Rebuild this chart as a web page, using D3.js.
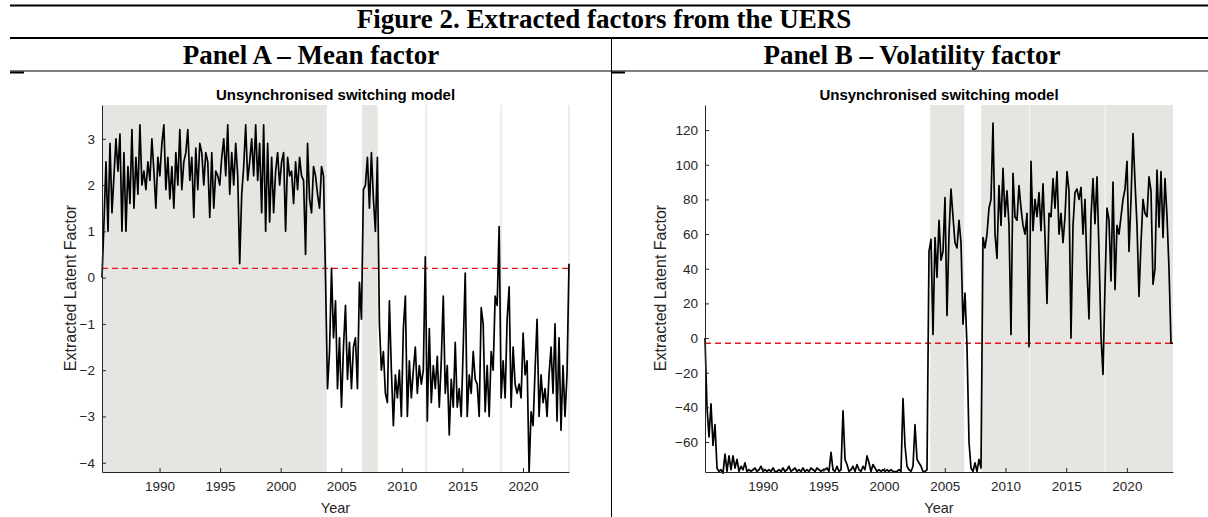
<!DOCTYPE html>
<html><head><meta charset="utf-8">
<script src="https://cdn.jsdelivr.net/npm/d3@7"></script>
<style>body{margin:0;background:#fff}</style></head>
<body><svg id="c" width="1208" height="517"></svg>
<script>
const startYear = 1985.25, endYear = 2023.8;
const meanFactor = [
0,1.2,2.5,1.0,2.9,1.4,
2.2,3.0,2.3,3.1,1.0,2.7, 1.0,2.4,1.6,3.2,1.5,2.6, 1.8,3.3,2.0,2.3,1.9,2.5, 2.1,3.0,2.3,1.5,2.6,2.2,
2.9,3.3,1.9,2.6,1.7,2.4, 1.5,2.7,2.0,3.2,1.9,2.5, 2.7,3.2,2.1,2.6,1.3,2.8, 1.9,2.9,2.7,2.0,2.7,2.5,
1.3,2.7,1.5,2.3,2.2,2.0, 2.6,3.0,2.2,3.3,1.8,2.7, 2.0,2.9,2.2,0.3,1.8,2.4, 3.3,2.1,2.5,3.0,2.2,3.3,
2.1,2.9,1.4,3.3,1.0,2.9, 1.2,2.6,1.4,2.3,2.7,2.0, 2.5,2.7,1.0,2.6,2.2,2.3, 1.6,2.5,1.9,2.6,2.2,2.1,
0.5,2.9,1.7,1.4,2.4,2.2, 1.8,1.5,2.4,2.2,0.0,-2.4,
-1.6,0.2,-1.3,-0.5,-2.4,-1.3, -2.8,-1.5,-0.6,-2.2,-1.4,-2.4, -1.5,-1.3,-2.4,-0.1,-0.9,1.9,
2.0,2.6,1.5,2.7,1.7,1.0, 2.6,-1.0,-2.0,-1.6,-2.5,-2.7, -0.5,-2.0,-3.2,-2.1,-2.6,-2.0,
-3.0,-1.1,-0.4,-3.0,-1.8,-2.6, -2.0,-1.5,-2.5,-1.9,-2.3,-2.0, 0.45,-3.1,-1.1,-2.7,-1.9,-2.4,
-1.7,-2.8,-1.8,-0.4,-2.5,-1.9, -3.4,-2.2,-2.8,-1.4,-2.8,-2.4, -3.0,-1.5,0.1,-3.0,-2.1,-2.5,
-1.6,-2.2,-2.3,-3.0,-0.65,-1.0, -2.9,-1.9,-3.0,-1.6,-2.0,-0.4, -0.6,1.1,-2.6,-1.8,-2.6,-0.9,
-0.2,-2.8,-1.5,-2.3,-2.5,-2.3, -2.6,-1.2,-2.1,-1.8,-4.2,-2.9, -3.2,-2.0,-0.9,-3.0,-2.1,-2.7,
-2.4,-3.0,-2.1,-1.5,-2.5,-1.0, -3.1,-1.3,-3.3,-1.9,-3.0,-2.1,0.3];
const volFactor = [
0,-40,-57,-38,-62,-50,
-75,-77,-76,-78,-67,-77, -68,-76,-68,-75,-70,-77, -74,-76,-72,-77,-76,-77, -76,-75,-77,-76,-74,-77,
-76,-77,-76,-77,-75,-77, -77,-76,-77,-75,-77,-76, -74,-77,-76,-75,-77,-76, -77,-75,-77,-76,-77,-75,
-76,-77,-75,-76,-77,-76, -76,-75,-77,-66,-76,-77, -74,-77,-76,-42,-70,-73, -77,-76,-74,-77,-73,-76,
-77,-74,-76,-68,-72,-77, -73,-75,-77,-76,-77,-76, -77,-76,-77,-76,-77,-77, -77,-76,-77,-35,-62,-74,
-76,-77,-74,-50,-70,-72, -74,-77,-77,-76,50,57,
2,58,35,68,45,50, 81,13,60,86,70,55, 52,68,55,8,26,-5,
-60,-75,-77,-72,-77,-70, -75,58,52,60,75,80, 124,60,46,88,65,98,
70,85,65,2,95,70, 68,88,75,65,60,72, -5,102,62,80,70,84,
62,89,58,20,72,70, 92,75,96,60,72,55, 70,96,85,0,65,84,
86,80,87,60,80,40, 11,70,92,66,93,50, 1,-21,30,75,68,33,
90,28,65,60,70,80, 86,102,50,80,118,90, 65,24,55,80,72,70,
93,85,31,40,97,64, 96,58,92,70,40,-3,-3];
const xTicks = [1990,1995,2000,2005,2010,2015,2020];
const meanTicks = [-4,-3,-2,-1,0,1,2,3];
const volTicks = [-60,-40,-20,0,20,40,60,80,100,120];
const meanShade = [[1985.25,2003.8],[2006.7,2008.0]];
const meanLines = [2012.0,2018.2,2023.8];
const volShade = [[2003.8,2006.6],[2008.0,2011.97],[2012.03,2018.17],[2018.23,2023.8]];
const meanThreshold = 0.2, volThreshold = -3;

const svg = d3.select("#c");
const serif = "'Liberation Serif','Times New Roman',serif", sans = "'Liberation Sans',Arial,sans-serif";
svg.append("line").attr("x1",10).attr("x2",1208).attr("y1",5.5).attr("y2",5.5).attr("stroke","#000").attr("stroke-width",2);
svg.append("text").attr("x",604).attr("y",28).attr("text-anchor","middle").attr("font-family",serif).attr("font-weight","bold").attr("font-size",27).text("Figure 2. Extracted factors from the UERS");
svg.append("line").attr("x1",10).attr("x2",1208).attr("y1",38).attr("y2",38).attr("stroke","#000").attr("stroke-width",2);
svg.append("text").attr("x",311).attr("y",64).attr("text-anchor","middle").attr("font-family",serif).attr("font-weight","bold").attr("font-size",27).text("Panel A – Mean factor");
svg.append("text").attr("x",912).attr("y",64).attr("text-anchor","middle").attr("font-family",serif).attr("font-weight","bold").attr("font-size",27).text("Panel B – Volatility factor");
svg.append("line").attr("x1",10).attr("x2",1208).attr("y1",71).attr("y2",71).attr("stroke","#000").attr("stroke-width",1);
svg.append("line").attr("x1",10).attr("x2",24).attr("y1",72.5).attr("y2",72.5).attr("stroke","#000").attr("stroke-width",2);
svg.append("line").attr("x1",611).attr("x2",625).attr("y1",72.5).attr("y2",72.5).attr("stroke","#000").attr("stroke-width",2);
svg.append("line").attr("x1",611.5).attr("x2",611.5).attr("y1",38).attr("y2",517).attr("stroke","#000").attr("stroke-width",1);

function panel(o){
  const g = svg.append("g");
  const x = d3.scaleLinear().domain([startYear,endYear]).range([o.x0,o.x1]);
  const y = d3.scaleLinear().domain(o.yd).range([472,105]);
  const n = o.data.length, step=(endYear-startYear)/(n-1);
  o.shade.forEach(s=>g.append("rect").attr("x",x(s[0])).attr("width",x(s[1])-x(s[0])).attr("y",105).attr("height",367).attr("fill","#e6e5e1"));
  (o.lines||[]).forEach(l=>g.append("line").attr("x1",x(l)).attr("x2",x(l)).attr("y1",105).attr("y2",472).attr("stroke","#ececea").attr("stroke-width",2));
  g.append("line").attr("x1",o.x0).attr("x2",o.x1).attr("y1",y(o.th)).attr("y2",y(o.th)).attr("stroke","#e8161b").attr("stroke-width",1.4).attr("stroke-dasharray","6,4");
  g.append("path").datum(o.data).attr("fill","none").attr("stroke","#000").attr("stroke-width",1.7).attr("stroke-linejoin","round")
   .attr("d",d3.line().x((d,i)=>x(startYear+i*step)).y(d=>y(d)));
  const xa = g.append("g").attr("transform","translate(0,472)").call(d3.axisBottom(x).tickValues(xTicks).tickFormat(d3.format("d")).tickSizeInner(-4).tickSizeOuter(0).tickPadding(9));
  const ya = g.append("g").attr("transform",`translate(${o.x0},0)`).call(d3.axisLeft(y).tickValues(o.ticks).tickSizeInner(-4).tickSizeOuter(0).tickPadding(7));
  [xa,ya].forEach(a=>{a.selectAll("text").attr("font-family",sans).attr("font-size",13.5).attr("fill","#262626");a.selectAll("line,path").attr("stroke","#262626");});
  g.append("text").attr("x",(o.x0+o.x1)/2).attr("y",100).attr("text-anchor","middle").attr("font-family",sans).attr("font-weight","bold").attr("font-size",15).text("Unsynchronised switching model");
  g.append("text").attr("x",(o.x0+o.x1)/2).attr("y",513).attr("text-anchor","middle").attr("font-family",sans).attr("font-size",14.5).attr("fill","#262626").text("Year");
  g.append("text").attr("transform",`translate(${o.lx},288) rotate(-90)`).attr("text-anchor","middle").attr("font-family",sans).attr("font-size",16).attr("fill","#262626").text("Extracted Latent Factor");
}
panel({x0:102,x1:569,yd:[-4.2,3.73],data:meanFactor,ticks:meanTicks,shade:meanShade,lines:meanLines,th:meanThreshold,lx:76});
panel({x0:705,x1:1173,yd:[-77.3,134.5],data:volFactor,ticks:volTicks,shade:volShade,th:volThreshold,lx:666});
</script></body></html>
